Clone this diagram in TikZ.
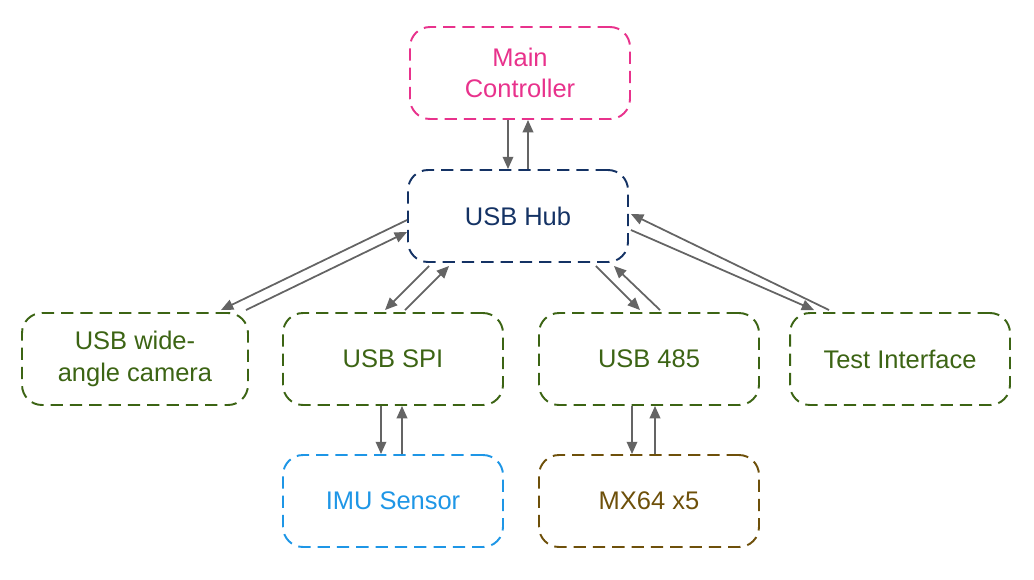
\documentclass[tikz,border=0pt]{standalone}
\usepackage{fontspec}
\setmainfont{Liberation Sans}
\usetikzlibrary{arrows.meta,calc}
\definecolor{cpink}{RGB}{232,50,140}
\definecolor{cnavy}{RGB}{20,50,100}
\definecolor{cgreen}{RGB}{60,100,20}
\definecolor{cblue}{RGB}{30,150,230}
\definecolor{cbrown}{RGB}{110,80,10}
\definecolor{cgray}{RGB}{100,100,100}
\begin{document}
\begin{tikzpicture}[x=0.02cm,y=-0.02cm,
 box/.style={draw=#1,text=#1,dash pattern=on 7pt off 4pt,line width=1.1pt,rounded corners=0.4cm,
   minimum width=4.4cm,minimum height=1.84cm,align=center,font=\fontsize{14.5}{18}\selectfont},
 ar/.style={draw=cgray,line width=1pt,-{Triangle[length=7pt,width=6pt]}}]
\useasboundingbox (0,0) rectangle (1034,579);
\node[box=cpink] (mc) at (520,73) {Main\\Controller};
\node[box=cnavy] (hub) at (518,216) {USB Hub};
\node[box=cgreen,minimum width=4.52cm] (cam) at (135,359) {USB wide-\\angle camera};
\node[box=cgreen] (spi) at (393,359) {USB SPI};
\node[box=cgreen] (r485) at (649,359) {USB 485};
\node[box=cgreen] (test) at (900,359) {Test Interface};
\node[box=cblue] (imu) at (393,501) {IMU Sensor};
\node[box=cbrown] (mx) at (649,501) {MX64 x5};
% main <-> hub
\draw[ar] ($(mc.south)+(-12,0)$) -- ($(hub.north)+(-10,0)$);
\draw[ar] ($(hub.north)+(10,0)$) -- ($(mc.south)+(8,0)$);
% hub <-> camera
\draw[ar] ($(hub.west)+(0,4)$) -- ($(cam.north east)+(-28,-2)$);
\draw[ar] ($(cam.north east)+(-3,-2)$) -- ($(hub.west)+(0,16)$);
% hub <-> spi
\draw[ar] ($(hub.south west)+(22,3)$) -- ($(spi.north)+(-8,-2)$);
\draw[ar] ($(spi.north)+(12,-2)$) -- ($(hub.south west)+(42,3)$);
% hub <-> 485
\draw[ar] ($(hub.south east)+(-33,3)$) -- ($(r485.north)+(-9,-2)$);
\draw[ar] ($(r485.north)+(11,-2)$) -- ($(hub.south east)+(-15,3)$);
% hub <-> test
\draw[ar] ($(hub.east)+(2,14)$) -- ($(test.north west)+(25,-2)$);
\draw[ar] ($(test.north west)+(40,-2)$) -- ($(hub.east)+(2,-2)$);
% spi <-> imu
\draw[ar] ($(spi.south)+(-12,0)$) -- ($(imu.north)+(-12,0)$);
\draw[ar] ($(imu.north)+(9,0)$) -- ($(spi.south)+(9,0)$);
% 485 <-> mx
\draw[ar] ($(r485.south)+(-17,0)$) -- ($(mx.north)+(-17,0)$);
\draw[ar] ($(mx.north)+(6,0)$) -- ($(r485.south)+(6,0)$);
\end{tikzpicture}
\end{document}
